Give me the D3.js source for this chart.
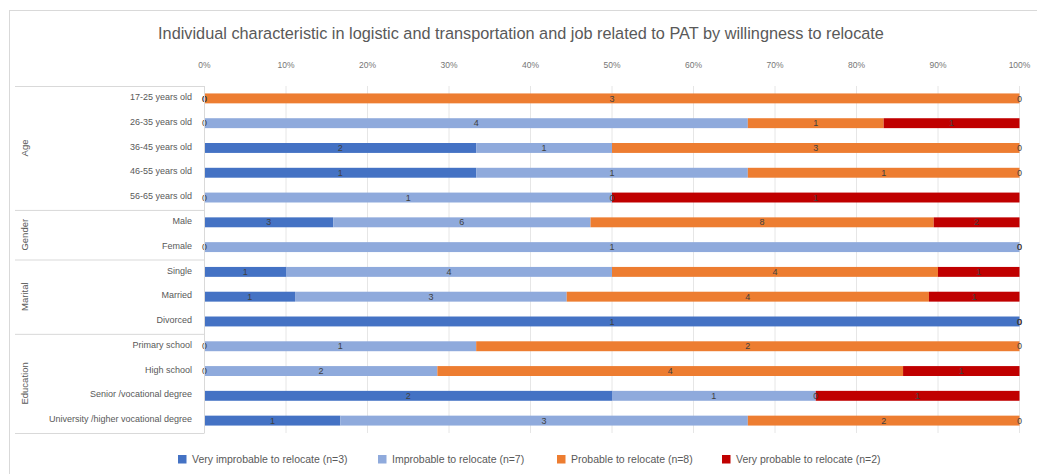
<!DOCTYPE html>
<html><head><meta charset="utf-8">
<script src="https://cdn.jsdelivr.net/npm/d3@7"></script>
<style>body{margin:0;background:#fff;} svg{display:block;font-family:"Liberation Sans",Arial,sans-serif;}</style>
</head><body>
<svg id="c" width="1037" height="474"></svg>
<script>
const title = "Individual characteristic in logistic and transportation and job related to PAT by willingness to relocate";
const categories = ["17-25 years old","26-35 years old","36-45 years old","46-55 years old","56-65 years old","Male","Female","Single","Married","Divorced","Primary school","High school","Senior /vocational degree","University /higher vocational degree"];
const groupNames = ["Age","Gender","Marital","Education"];
const groupSizes = [5,2,3,4];
const seriesNames = ["Very improbable to relocate (n=3)","Improbable to relocate (n=7)","Probable to relocate (n=8)","Very probable to relocate (n=2)"];
const veryImprobable = [0,0,2,1,0,3,0,1,1,1,0,0,2,1];
const improbable     = [0,4,1,1,1,6,1,4,3,0,1,2,1,3];
const probable       = [3,1,3,1,0,8,0,4,4,0,2,4,0,2];
const veryProbable   = [0,1,0,0,1,2,0,1,1,0,0,1,1,0];
const tickValues = [0,0.1,0.2,0.3,0.4,0.5,0.6,0.7,0.8,0.9,1];
const colors = ["#4472C4","#8FAADC","#ED7D31","#C00000"];

const series = [veryImprobable, improbable, probable, veryProbable];
const svg = d3.select("#c");

// frame
svg.append("rect").attr("x",9.5).attr("y",10.5).attr("width",1100).attr("height",600)
  .attr("fill","none").attr("stroke","#d9d9d9");

// title
svg.append("text").attr("x",521).attr("y",39).attr("text-anchor","middle")
  .attr("font-size",16.3).attr("fill","#595959").text(title);

const x = d3.scaleLinear().domain([0,1]).range([204.5,1019.5]);
const y = d3.scaleBand().domain(categories).range([86,433]).paddingInner(0.6).paddingOuter(0.3);
const step = y.step();

// gridlines
svg.append("g").selectAll("line").data(tickValues).join("line")
  .attr("x1",d=>x(d)).attr("x2",d=>x(d)).attr("y1",86).attr("y2",433)
  .attr("stroke","#e6e6e6").attr("stroke-width",1);

// top axis labels
svg.append("g").selectAll("text").data(tickValues).join("text")
  .attr("x",d=>x(d)).attr("y",68).attr("text-anchor","middle")
  .attr("font-size",8.5).attr("fill","#767676").text(d=>d3.format(".0%")(d));

// stacked data
const rows = categories.map((c,i)=>{
  const vals = series.map(s=>s[i]);
  const total = d3.sum(vals);
  let acc = 0;
  return vals.map((v,k)=>{ const x0 = acc/total; acc += v; return {cat:c,k,v,x0,x1:acc/total}; });
});
const segs = rows.flat();

svg.append("g").selectAll("rect").data(segs.filter(d=>d.v>0)).join("rect")
  .attr("x",d=>x(d.x0)).attr("width",d=>x(d.x1)-x(d.x0))
  .attr("y",d=>y(d.cat)).attr("height",y.bandwidth())
  .attr("fill",d=>colors[d.k]);

svg.append("g").selectAll("text").data(segs).join("text")
  .attr("x",d=>x((d.x0+d.x1)/2)).attr("y",d=>y(d.cat)+y.bandwidth()/2)
  .attr("dy","0.35em").attr("text-anchor","middle")
  .attr("font-size",9).attr("fill","#404040").text(d=>d.v);

// category table
const tbl = svg.append("g");
tbl.append("line").attr("x1",x(0)).attr("x2",x(0)).attr("y1",86).attr("y2",433).attr("stroke","#d9d9d9");
let start = 0;
const bounds = [86];
groupSizes.forEach((n,gi)=>{
  const y0 = 86 + start*step, y1 = 86 + (start+n)*step;
  bounds.push(y1);
  tbl.append("text").attr("transform",`translate(28,${(y0+y1)/2}) rotate(-90)`)
    .attr("text-anchor","middle").attr("font-size",9.5).attr("fill","#595959").text(groupNames[gi]);
  start += n;
});
tbl.selectAll("line.h").data(bounds).join("line").attr("class","h")
  .attr("x1",15).attr("x2",x(0)).attr("y1",d=>d+0.5).attr("y2",d=>d+0.5).attr("stroke","#d9d9d9");

svg.append("g").selectAll("text").data(categories).join("text")
  .attr("x",192).attr("y",d=>y(d)+y.bandwidth()/2-1.5).attr("dy","0.35em")
  .attr("text-anchor","end").attr("font-size",9).attr("fill","#595959").text(d=>d);

// legend
const legX = [178,378,557,722];
const lg = svg.append("g").selectAll("g").data(seriesNames).join("g")
  .attr("transform",(d,i)=>`translate(${legX[i]},455)`);
lg.append("rect").attr("width",8.5).attr("height",8.5).attr("y",0).attr("fill",(d,i)=>colors[i]);
lg.append("text").attr("x",14).attr("y",4).attr("dy","0.35em").attr("font-size",10.5)
  .attr("fill","#595959").text(d=>d);
</script>
</body></html>
